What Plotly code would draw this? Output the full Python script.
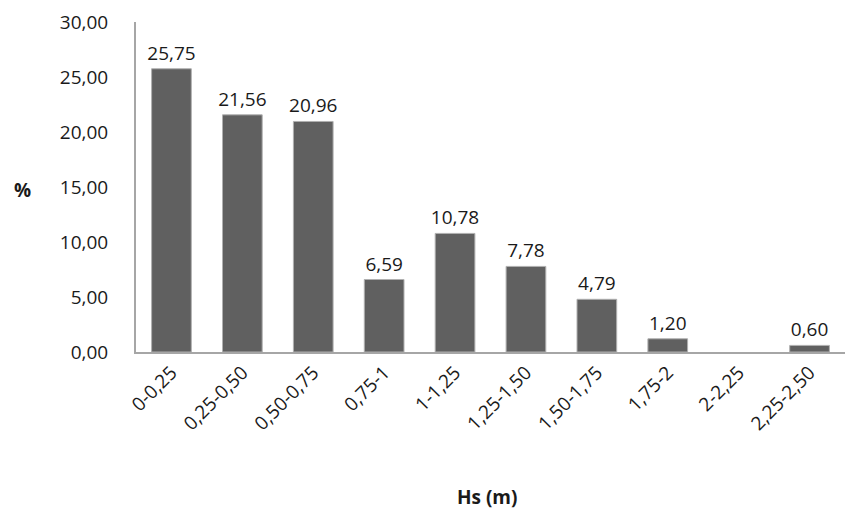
import plotly.graph_objects as go

# Wave height classes (Hs, metres) and their frequency of occurrence (%)
classes = ["0-0,25", "0,25-0,50", "0,50-0,75", "0,75-1", "1-1,25",
           "1,25-1,50", "1,50-1,75", "1,75-2", "2-2,25", "2,25-2,50"]
percent = [25.75, 21.56, 20.96, 6.59, 10.78, 7.78, 4.79, 1.20, 0.0, 0.60]

y_ticks = [0, 5, 10, 15, 20, 25, 30]

FONT = "Open Sans, Lato, sans-serif"
SIZE = 19

labels = [f"{v:.2f}".replace(".", ",") if v > 0 else "" for v in percent]
edge_widths = [1 if v > 0 else 0 for v in percent]

fig = go.Figure(
    go.Bar(
        x=classes,
        y=percent,
        text=labels,
        textposition="outside",
        cliponaxis=False,
        textfont=dict(family=FONT, size=SIZE, color="#1a1a1a"),
        marker=dict(color="#606060", line=dict(color="#b0b0b0", width=edge_widths)),
    )
)

fig.update_layout(
    width=847,
    height=517,
    margin=dict(l=136, r=2, t=22, b=165),
    plot_bgcolor="white",
    paper_bgcolor="white",
    separators=",.",
    bargap=0.44,
    showlegend=False,
    uniformtext=dict(minsize=SIZE, mode="show"),
    font=dict(family=FONT, size=SIZE, color="#1a1a1a"),
)

fig.update_xaxes(
    type="category",
    tickangle=-45,
    showline=True,
    linecolor="#a6a6a6",
    linewidth=2,
    ticks="",
    showgrid=False,
    tickfont=dict(family=FONT, size=SIZE, color="#1a1a1a"),
)

fig.update_yaxes(
    range=[0, 30],
    tickvals=y_ticks,
    tickformat=".2f",
    showline=True,
    linecolor="#a6a6a6",
    linewidth=2,
    ticks="",
    showgrid=False,
    zeroline=False,
    ticklabelstandoff=22,
    tickfont=dict(family=FONT, size=SIZE, color="#1a1a1a"),
)

fig.add_annotation(
    text="<b>%</b>", xref="paper", yref="paper",
    x=-0.16, y=0.49, xanchor="center", yanchor="middle",
    showarrow=False, font=dict(family=FONT, size=SIZE, color="#1a1a1a"),
)
fig.add_annotation(
    text="<b>Hs (m)</b>", xref="paper", yref="paper",
    x=0.495, y=-0.44, xanchor="center", yanchor="middle",
    showarrow=False, font=dict(family=FONT, size=SIZE, color="#1a1a1a"),
)

fig.write_html("out.html")
